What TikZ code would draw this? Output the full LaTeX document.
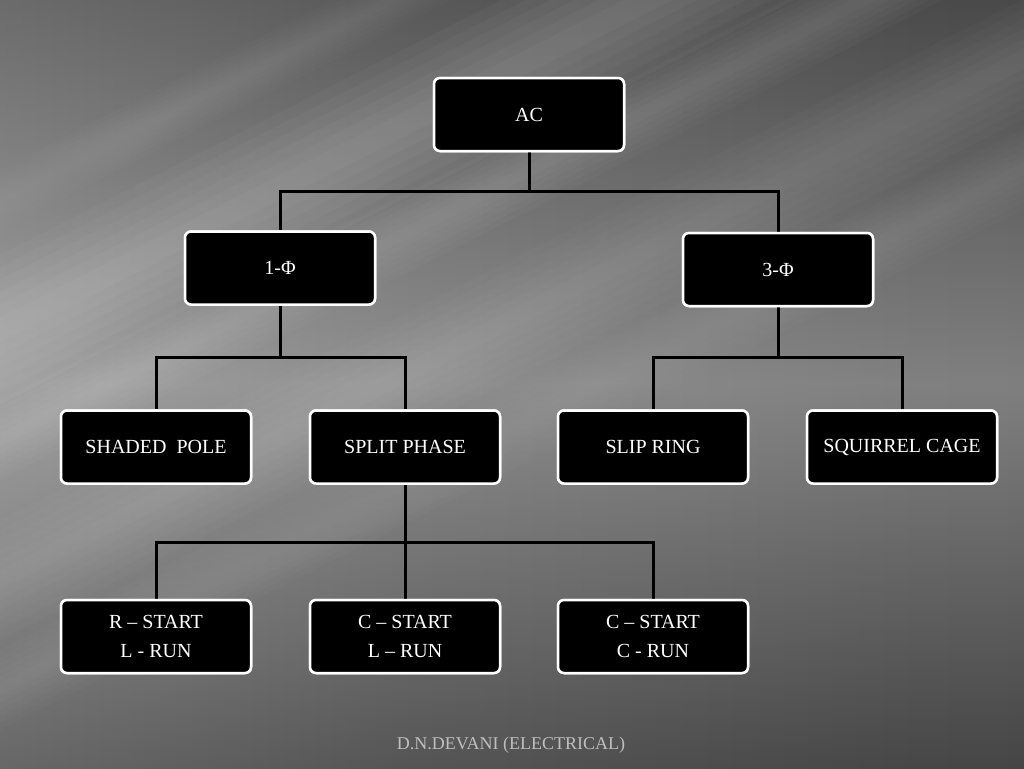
\documentclass[tikz,border=0pt]{standalone}
\usepackage{fontspec}
\setmainfont{Liberation Serif}
\begin{document}
\begin{tikzpicture}[x=1pt,y=-1pt,
  box/.style={draw=white, line width=2.5pt, fill=black, rounded corners=6pt,
    minimum width=190pt, minimum height=73pt, text=white, font=\fontsize{20}{29}\selectfont,
    align=center, inner sep=0pt},
  conn/.style={draw=black, line width=3pt}]
\useasboundingbox (0,0) rectangle (1024,768);
% background
\pgfdeclarehorizontalshading{bgsh}{100bp}{color(0bp)=(black!42); color(20bp)=(black!50); color(45bp)=(black!63); color(70bp)=(black!71); color(100bp)=(black!75)}
\shade[shading=bgsh, shading angle=0] (0,0) rectangle (1024,768);
% darker top and bottom edges
\shade[top color=black!70, bottom color=black!75, middle color=black!0, opacity=0.3] (0,0) rectangle (1024,768);
% diagonal light streaks
\foreach \yy/\w/\op in {330/150/0.03, 440/80/0.025, 580/120/0.02, 200/60/0.015, 690/80/0.015}{
  \foreach \k in {1,...,6}{
    \fill[white, opacity=\op] (-20,\yy-\w*\k/12+10) -- (1100,\yy-\w*\k/12-560) -- (1100,\yy+\w*\k/12-560) -- (-20,\yy+\w*\k/12+10) -- cycle;
  }
}
% nodes
\node[box] (ac) at (529,114.5) {AC};
\node[box] (p1) at (280,268) {1-Φ};
\node[box] (p3) at (778,269.5) {3-Φ};
\node[box] (sp) at (156,447) {SHADED\ \ POLE};
\node[box] (sph) at (405,447) {SPLIT PHASE};
\node[box] (sr) at (653,447) {SLIP RING};
\node[box] (sc) at (902,447) {SQUIRREL CAGE};
\node[box] (rs) at (156,636.5) {R – START\\L - RUN};
\node[box] (cs) at (405,636.5) {C – START\\L – RUN};
\node[box] (cc) at (653,636.5) {C – START\\C - RUN};
% connectors
\coordinate (b1) at (529,191);
\coordinate (b2) at (280,357);
\coordinate (b3) at (778,357);
\coordinate (b4) at (405,542);
\draw[conn] (ac.south) -- (b1);
\draw[conn] (b1) -| (p1.north);
\draw[conn] (b1) -| (p3.north);
\draw[conn] (p1.south) -- (b2);
\draw[conn] (b2) -| (sp.north);
\draw[conn] (b2) -| (sph.north);
\draw[conn] (p3.south) -- (b3);
\draw[conn] (b3) -| (sr.north);
\draw[conn] (b3) -| (sc.north);
\draw[conn] (sph.south) -- (b4);
\draw[conn] (b4) -| (rs.north);
\draw[conn] (b4) -- (cs.north);
\draw[conn] (b4) -| (cc.north);
% redraw boxes on top of connectors
\node[box] at (ac) {AC};
\node[box] at (p1) {1-Φ};
\node[box] at (p3) {3-Φ};
\node[box] at (sp) {SHADED\ \ POLE};
\node[box] at (sph) {SPLIT PHASE};
\node[box] at (sr) {SLIP RING};
\node[box] at (sc) {SQUIRREL CAGE};
\node[box] at (rs) {R – START\\L - RUN};
\node[box] at (cs) {C – START\\L – RUN};
\node[box] at (cc) {C – START\\C - RUN};
\node[text=black!25, font=\fontsize{18}{20}\selectfont, inner sep=0pt] (ft) at (511,745) {D.N.DEVANI (ELECTRICAL)};
\end{tikzpicture}
\end{document}
